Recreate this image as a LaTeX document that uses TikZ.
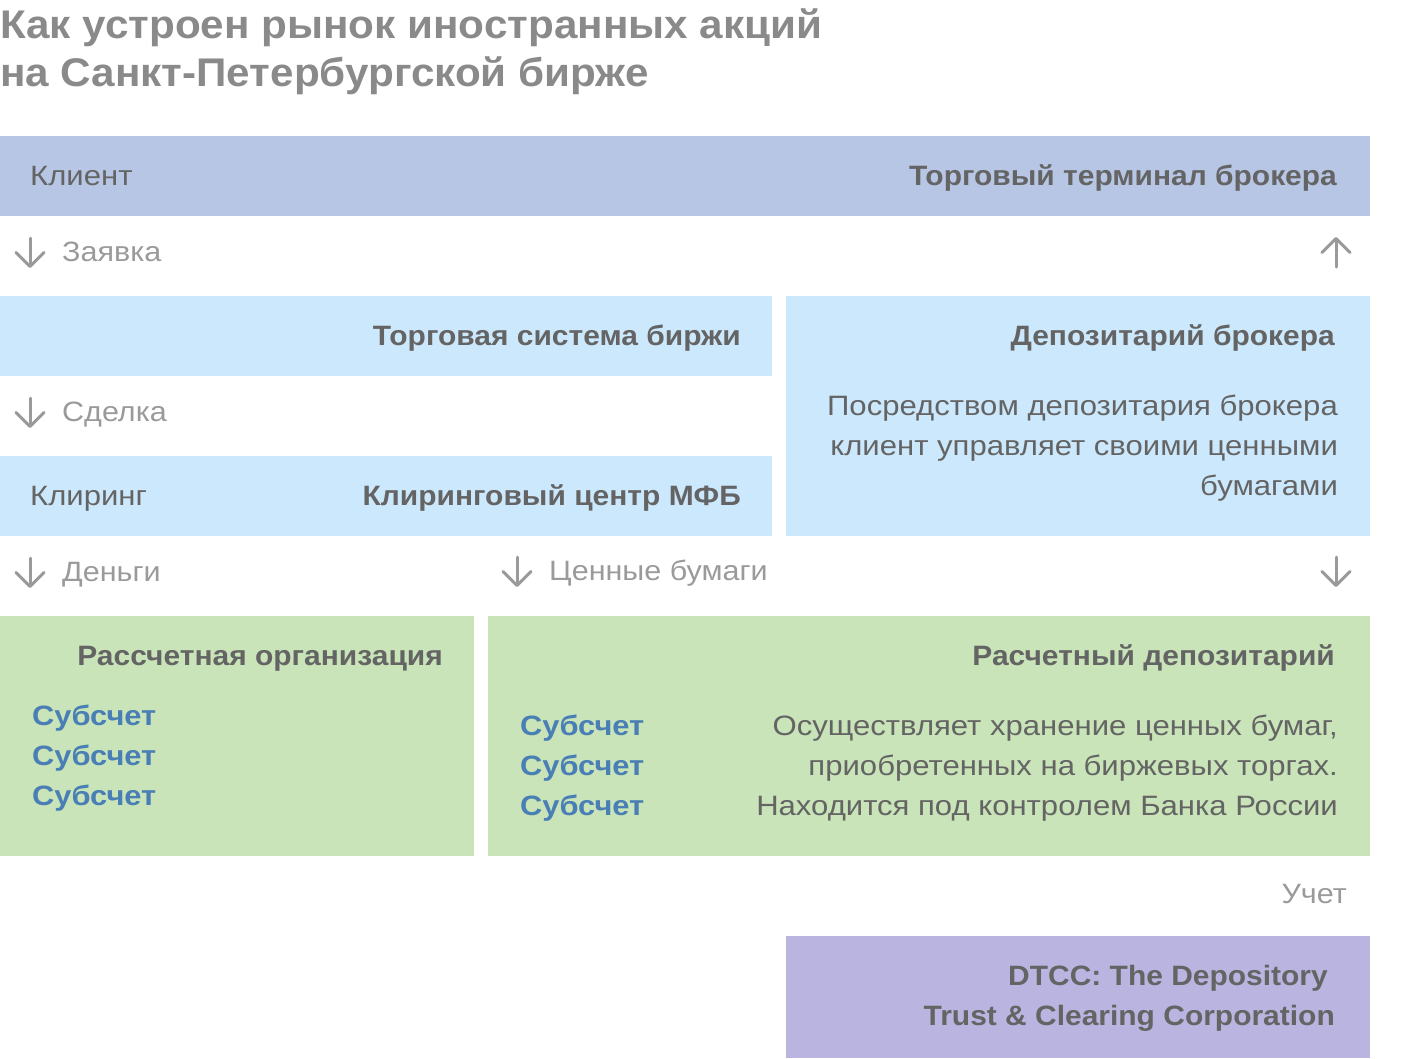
\documentclass[tikz,border=0pt]{standalone}
\usepackage{fontspec}
\setmainfont{Liberation Sans}
\newfontfamily\regw[FakeStretch=1.11]{Liberation Sans}
\newfontfamily\grayw[FakeStretch=1.09]{Liberation Sans}
\newfontfamily\boldw[FakeStretch=1.07]{Liberation Sans}
\newfontfamily\subw[FakeStretch=1.10]{Liberation Sans}
\newfontfamily\titw[FakeStretch=1.055]{Liberation Sans}
\usetikzlibrary{arrows.meta}
\definecolor{barblue}{HTML}{B6C6E4}
\definecolor{lightblue}{HTML}{CCE8FC}
\definecolor{lightgreen}{HTML}{C8E4B8}
\definecolor{lilac}{HTML}{BAB5E0}
\definecolor{darktext}{HTML}{646464}
\definecolor{graytext}{HTML}{9A9A9A}
\definecolor{titlegray}{HTML}{8A8A8A}
\definecolor{subblue}{HTML}{4A7FB5}
\tikzset{
  panel/.style={rectangle, draw=none, inner sep=0pt, anchor=north west},
  lbl/.style={inner sep=0pt, text=darktext, font=\fontsize{28bp}{40bp}\regw},
  blbl/.style={inner sep=0pt, text=darktext, font=\fontsize{28bp}{40bp}\boldw\bfseries},
  glbl/.style={inner sep=0pt, text=graytext, font=\fontsize{28bp}{40bp}\grayw},
  sub/.style={inner sep=0pt, text=subblue, font=\fontsize{28bp}{40bp}\subw\bfseries},
  ttl/.style={inner sep=0pt, text=titlegray, font=\fontsize{40bp}{50bp}\titw\bfseries, anchor=base west},
  arr/.style={draw=graytext, line width=3bp, line cap=round,
    -{Straight Barb[length=14bp, width=28bp, line width=3bp, line cap=round, line join=round]}}
}
\begin{document}
\begin{tikzpicture}[x=1bp, y=-1bp]
\useasboundingbox (0,0) rectangle (1402,1058);
% title
\node[ttl] (t1) at (0,38) {Как устроен рынок иностранных акций};
\node[ttl] (t2) at (0,86) {на Санкт-Петербургской бирже};
% panels
\node[panel, fill=barblue, minimum width=1370bp, minimum height=80bp] (client) at (0,136) {};
\node[panel, fill=lightblue, minimum width=772bp, minimum height=80bp] (trade) at (0,296) {};
\node[panel, fill=lightblue, minimum width=584bp, minimum height=240bp] (depo) at (786,296) {};
\node[panel, fill=lightblue, minimum width=772bp, minimum height=80bp] (clear) at (0,456) {};
\node[panel, fill=lightgreen, minimum width=474bp, minimum height=240bp] (settle) at (0,616) {};
\node[panel, fill=lightgreen, minimum width=882bp, minimum height=240bp] (sdepo) at (488,616) {};
\node[panel, fill=lilac, minimum width=584bp, minimum height=122bp] (dtcc) at (786,936) {};
% texts in panels
\node[lbl, anchor=base west] (tclient) at (30,185) {Клиент};
\node[blbl, anchor=base east] (tterm) at (1337,185) {Торговый терминал брокера};
\node[blbl, anchor=base east] (ttrade) at (741,345) {Торговая система биржи};
\node[blbl, anchor=base east] (tdepo) at (1335,345) {Депозитарий брокера};
\node[lbl, anchor=base east] (tdepo1) at (1338,415) {Посредством депозитария брокера};
\node[lbl, anchor=base east] (tdepo2) at (1338,455) {клиент управляет своими ценными};
\node[lbl, anchor=base east] (tdepo3) at (1338,495) {бумагами};
\node[lbl, anchor=base west] (tclr) at (30,505) {Клиринг};
\node[blbl, anchor=base east] (tclrc) at (741,505) {Клиринговый центр МФБ};
\node[blbl, anchor=base east] (tsettle) at (443,665) {Рассчетная организация};
\node[sub, anchor=base west] (s1) at (32,725) {Субсчет};
\node[sub, anchor=base west] (s2) at (32,765) {Субсчет};
\node[sub, anchor=base west] (s3) at (32,805) {Субсчет};
\node[blbl, anchor=base east] (tsdepo) at (1335,665) {Расчетный депозитарий};
\node[sub, anchor=base west] (s4) at (520,735) {Субсчет};
\node[sub, anchor=base west] (s5) at (520,775) {Субсчет};
\node[sub, anchor=base west] (s6) at (520,815) {Субсчет};
\node[lbl, anchor=base east] (tsd1) at (1338,735) {Осуществляет хранение ценных бумаг,};
\node[lbl, anchor=base east] (tsd2) at (1338,775) {приобретенных на биржевых торгах.};
\node[lbl, anchor=base east] (tsd3) at (1338,815) {Находится под контролем Банка России};
\node[blbl, anchor=base east] (tdtcc1) at (1328,985) {DTCC: The Depository};
\node[blbl, anchor=base east] (tdtcc2) at (1335,1025) {Trust \& Clearing Corporation};
% arrow labels
\node[glbl, anchor=base west] (lz) at (62,261) {Заявка};
\node[glbl, anchor=base west] (ls) at (62,421) {Сделка};
\node[glbl, anchor=base west] (ld) at (62,581) {Деньги};
\node[glbl, anchor=base west] (lc) at (549,580) {Ценные бумаги};
\node[glbl, anchor=base east] (lu) at (1347,903) {Учет};
% arrows
\coordinate (a1s) at (30,238); \coordinate (a1e) at (30,268);
\coordinate (a2s) at (1336,267); \coordinate (a2e) at (1336,237);
\coordinate (a3s) at (30,398); \coordinate (a3e) at (30,428);
\coordinate (a4s) at (30,558); \coordinate (a4e) at (30,588);
\coordinate (a5s) at (517,557); \coordinate (a5e) at (517,587);
\coordinate (a6s) at (1336,557); \coordinate (a6e) at (1336,587);
\draw[arr] (a1s) -- (a1e);
\draw[arr] (a2s) -- (a2e);
\draw[arr] (a3s) -- (a3e);
\draw[arr] (a4s) -- (a4e);
\draw[arr] (a5s) -- (a5e);
\draw[arr] (a6s) -- (a6e);
\end{tikzpicture}
\end{document}
